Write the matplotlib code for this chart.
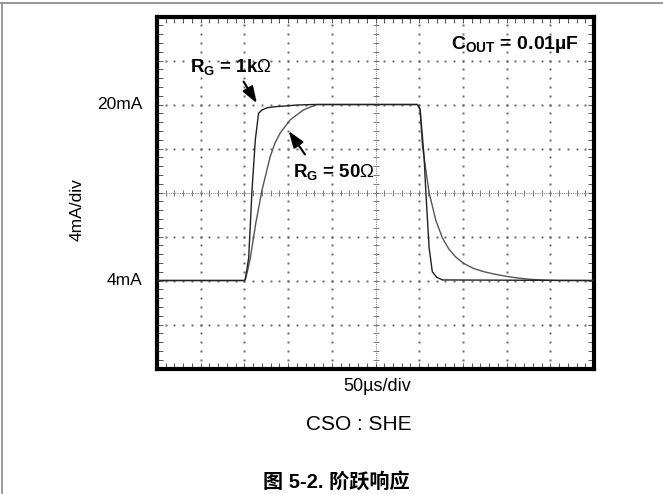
import numpy as np
import matplotlib
matplotlib.use('Agg')
import matplotlib.pyplot as plt
from matplotlib.lines import Line2D

plt.rcParams['font.family'] = ['Liberation Sans', 'Noto Sans CJK SC', 'DejaVu Sans']
plt.rcParams['mathtext.fontset'] = 'custom'
plt.rcParams['mathtext.rm'] = 'Liberation Sans'
plt.rcParams['mathtext.bf'] = 'Liberation Sans:bold'

# trace for R_G = 1k (time in us, current in mA)
t_1k = [0, 100, 101, 104.9, 108.7, 112.5, 116.2, 120, 125.8, 135, 144.3, 160, 178.4,
        298, 301, 305.6, 307.5, 311.3, 315, 320, 326.4, 500]
i_1k = [4, 4, 4.1, 6.05, 12.2, 16.8, 19.2, 19.5, 19.7, 19.8, 19.85, 19.95, 20,
        20, 19.6, 15.25, 12.2, 7.0, 4.8, 4.3, 4.05, 4]

# trace for R_G = 50 ohm
t_50 = [0, 100, 101.1, 104, 106.8, 113, 120.1, 129.5, 135, 140.9, 152.3, 167.4, 182.6,
        298, 301, 303.7, 311.3, 318.9, 326.4, 334, 341.6, 351, 362, 374, 386, 398,
        413, 428, 445, 460, 500]
i_50 = [4, 4, 4.1, 5.0, 6.05, 9.2, 12.2, 15.25, 16.5, 17.4, 18.6, 19.5, 20,
        20, 19.5, 16.2, 12.0, 9.5, 7.9, 6.85, 6.15, 5.55, 5.1, 4.8, 4.58, 4.4,
        4.22, 4.1, 4.03, 4.0, 4.0]

y_ticks = [4, 20]
y_tick_labels = ['4mA', '20mA']

fig = plt.figure(figsize=(6.63, 4.94), dpi=100)
ax = fig.add_axes([157 / 663, 1 - 368.5 / 494, 437 / 663, 352 / 494])
ax.set_xlim(0, 500)
ax.set_ylim(-4, 28)

# scope grid: dots along major divisions
xs_minor = np.arange(0, 500.01, 10)
ys_minor = np.arange(-4, 28.01, 0.8)
for k in range(1, 10):
    if k == 5:
        continue
    gx = k * 50
    ax.plot(np.full_like(ys_minor, gx), ys_minor, ls='none', marker='s', ms=1.4,
            mec='none', mfc='#666666', zorder=1)
for k in range(1, 8):
    if k == 4:
        continue
    gy = -4 + k * 4
    ax.plot(xs_minor, np.full_like(xs_minor, gy), ls='none', marker='s', ms=1.4,
            mec='none', mfc='#666666', zorder=1)

# centre cross with small ticks
ax.axhline(12, color='#888888', lw=0.8, ls=(0, (1, 1)), zorder=1)
ax.axvline(250, color='#888888', lw=0.8, ls=(0, (1, 1)), zorder=1)
ax.plot(xs_minor, np.full_like(xs_minor, 12), ls='none', marker='|', ms=5,
        mew=0.7, color='#777777', zorder=1)
ax.plot(np.full_like(ys_minor, 250), ys_minor, ls='none', marker='_', ms=5,
        mew=0.7, color='#777777', zorder=1)

# traces
ax.plot(t_50, i_50, color='#555555', lw=1.0, zorder=3)
ax.plot(t_1k, i_1k, color='#222222', lw=1.0, zorder=4)

# border and inward ticks
for s in ax.spines.values():
    s.set_linewidth(3.0)
    s.set_color('black')
ax.set_xticks(xs_minor)
ax.set_yticks(ys_minor)
ax.tick_params(direction='in', length=4, width=0.7, color='#555555',
               top=True, right=True, labelleft=False, labelbottom=False)

# annotations
ax.text(38, 23.4, r'$\mathbf{R_G}$ = 1k$\Omega$', fontsize=13.5, fontweight='bold',
        ha='left', va='center')
ax.text(156, 13.85, r'$\mathbf{R_G}$ = 50$\Omega$', fontsize=13.5, fontweight='bold',
        ha='left', va='center')
ax.text(336, 25.5, r'$\mathbf{C_{OUT}}$ = 0.01µF', fontsize=14, fontweight='bold',
        ha='left', va='center')
arrow_style = '-|>,head_length=1.0,head_width=0.35'
ax.annotate('', xy=(115.9, 19.9), xytext=(97.4, 22.3),
            arrowprops=dict(arrowstyle=arrow_style, color='black', lw=1.5))
ax.annotate('', xy=(148.8, 17.8), xytext=(171.2, 15.25),
            arrowprops=dict(arrowstyle=arrow_style, color='black', lw=1.5))

# outside labels
for v, lab in zip(y_ticks, y_tick_labels):
    ypix = 16.5 + (28 - v) / 32 * 352
    fig.text(142 / 663, 1 - ypix / 494, lab, fontsize=12.5, ha='right', va='center')
fig.text(77 / 663, 1 - 210 / 494, '4mA/div', fontsize=12.5, rotation=90,
         ha='center', va='center')
fig.text(377 / 663, 1 - 386 / 494, '50µs/div', fontsize=13, ha='center', va='center')
fig.text(359 / 663, 1 - 424 / 494, 'CSO : SHE', fontsize=15, ha='center', va='center')
fig.text(336 / 663, 1 - 482 / 494, '图 5-2. 阶跃响应', fontsize=14.5, fontweight='bold',
         ha='center', va='center')

# page frame lines
fig.add_artist(Line2D([0, 1], [1 - 3.5 / 494, 1 - 3.5 / 494], color='#888888', lw=1.2))
fig.add_artist(Line2D([1.5 / 663, 1.5 / 663], [0, 1 - 3.5 / 494], color='#888888', lw=1.2))

fig.savefig('out.png', dpi=100)
